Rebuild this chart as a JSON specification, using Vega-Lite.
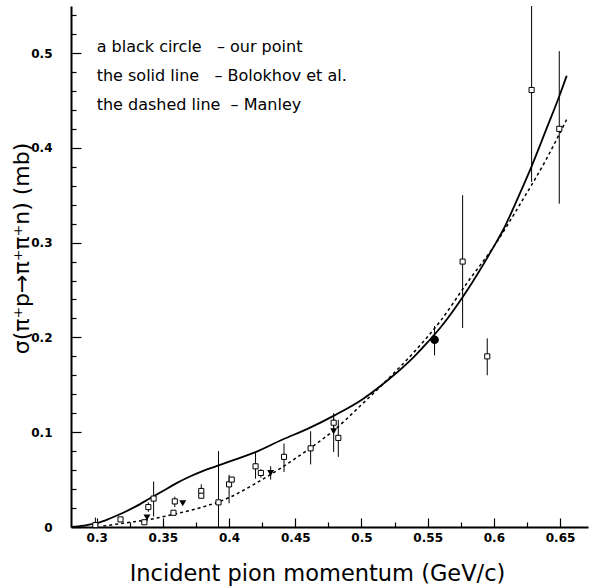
{
  "$schema": "https://vega.github.io/schema/vega-lite/v6.json",
  "width": 517,
  "height": 521,
  "autosize": {"type": "none"},
  "padding": {"left": 71, "top": 6, "right": 1, "bottom": 60},
  "background": "white",
  "config": {
    "view": {"stroke": null},
    "font": "DejaVu Sans",
    "axis": {
      "labelFont": "DejaVu Sans", "labelFontWeight": "bold", "labelFontSize": 12, "labelColor": "black",
      "tickColor": "black", "tickWidth": 1.2, "domainColor": "black", "domainWidth": 2, "grid": false,
      "labelOverlap": false, "labelFlush": false
    }
  },
  "resolve": {"axis": {"x": "independent", "y": "independent"}},
  "datasets": {
    "bolokhov": [
      {"p": 0.281, "sigma": 0.0}, {"p": 0.29, "sigma": 0.0015}, {"p": 0.30, "sigma": 0.004},
      {"p": 0.31, "sigma": 0.009}, {"p": 0.32, "sigma": 0.015}, {"p": 0.33, "sigma": 0.022},
      {"p": 0.34, "sigma": 0.030}, {"p": 0.35, "sigma": 0.038}, {"p": 0.36, "sigma": 0.046},
      {"p": 0.37, "sigma": 0.053}, {"p": 0.38, "sigma": 0.059}, {"p": 0.39, "sigma": 0.064},
      {"p": 0.40, "sigma": 0.069}, {"p": 0.42, "sigma": 0.079}, {"p": 0.44, "sigma": 0.092},
      {"p": 0.46, "sigma": 0.104}, {"p": 0.48, "sigma": 0.118}, {"p": 0.50, "sigma": 0.134},
      {"p": 0.52, "sigma": 0.155}, {"p": 0.54, "sigma": 0.180}, {"p": 0.55, "sigma": 0.195},
      {"p": 0.56, "sigma": 0.211}, {"p": 0.58, "sigma": 0.250}, {"p": 0.60, "sigma": 0.296},
      {"p": 0.6071, "sigma": 0.3136}, {"p": 0.62, "sigma": 0.353}, {"p": 0.6285, "sigma": 0.3805},
      {"p": 0.64, "sigma": 0.421}, {"p": 0.6494, "sigma": 0.4544}, {"p": 0.655, "sigma": 0.476}
    ],
    "manley": [
      {"p": 0.305, "sigma": 0.001}, {"p": 0.32, "sigma": 0.004}, {"p": 0.34, "sigma": 0.008},
      {"p": 0.36, "sigma": 0.014}, {"p": 0.38, "sigma": 0.021}, {"p": 0.40, "sigma": 0.031},
      {"p": 0.42, "sigma": 0.046}, {"p": 0.44, "sigma": 0.063}, {"p": 0.46, "sigma": 0.082},
      {"p": 0.48, "sigma": 0.103}, {"p": 0.50, "sigma": 0.129}, {"p": 0.52, "sigma": 0.156},
      {"p": 0.54, "sigma": 0.185}, {"p": 0.56, "sigma": 0.218}, {"p": 0.58, "sigma": 0.258},
      {"p": 0.60, "sigma": 0.296}, {"p": 0.62, "sigma": 0.341}, {"p": 0.64, "sigma": 0.389},
      {"p": 0.655, "sigma": 0.430}
    ],
    "points": [
      {"p": 0.299, "sigma": 0.002, "lo": 0.0, "hi": 0.010, "source": "square"},
      {"p": 0.318, "sigma": 0.008, "source": "square"},
      {"p": 0.336, "sigma": 0.005, "source": "square"},
      {"p": 0.339, "sigma": 0.021, "lo": 0.016, "hi": 0.026, "source": "square"},
      {"p": 0.343, "sigma": 0.030, "lo": 0.011, "hi": 0.048, "source": "square"},
      {"p": 0.358, "sigma": 0.015, "source": "square"},
      {"p": 0.359, "sigma": 0.027, "lo": 0.021, "hi": 0.032, "source": "square"},
      {"p": 0.379, "sigma": 0.038, "lo": 0.031, "hi": 0.045, "source": "square"},
      {"p": 0.379, "sigma": 0.033, "source": "square"},
      {"p": 0.392, "sigma": 0.026, "lo": 0.0, "hi": 0.080, "source": "square"},
      {"p": 0.400, "sigma": 0.045, "lo": 0.025, "hi": 0.055, "source": "square"},
      {"p": 0.402, "sigma": 0.050, "source": "square"},
      {"p": 0.420, "sigma": 0.064, "lo": 0.051, "hi": 0.078, "source": "square"},
      {"p": 0.424, "sigma": 0.057, "lo": 0.052, "hi": 0.061, "source": "square"},
      {"p": 0.4415, "sigma": 0.074, "lo": 0.058, "hi": 0.088, "source": "square"},
      {"p": 0.4616, "sigma": 0.083, "lo": 0.066, "hi": 0.101, "source": "square"},
      {"p": 0.479, "sigma": 0.110, "lo": 0.100, "hi": 0.120, "source": "square"},
      {"p": 0.4825, "sigma": 0.094, "lo": 0.074, "hi": 0.113, "source": "square"},
      {"p": 0.5764, "sigma": 0.28, "lo": 0.21, "hi": 0.35, "source": "square"},
      {"p": 0.595, "sigma": 0.18, "lo": 0.16, "hi": 0.199, "source": "square"},
      {"p": 0.6285, "sigma": 0.461, "lo": 0.364, "hi": 0.558, "source": "square"},
      {"p": 0.6494, "sigma": 0.42, "lo": 0.341, "hi": 0.502, "source": "square"},
      {"p": 0.338, "sigma": 0.010, "source": "triangle"},
      {"p": 0.365, "sigma": 0.025, "source": "triangle"},
      {"p": 0.4314, "sigma": 0.057, "lo": 0.050, "hi": 0.064, "source": "triangle"},
      {"p": 0.479, "sigma": 0.101, "lo": 0.079, "hi": 0.115, "source": "triangle"},
      {"p": 0.5552, "sigma": 0.1975, "lo": 0.181, "hi": 0.212, "source": "ours"}
    ],
    "notes": [
      {"p": 0.3, "sigma": 0.5063, "text": "a black circle\u00a0\u00a0\u00a0– our point"},
      {"p": 0.3, "sigma": 0.4757, "text": "the solid line\u00a0\u00a0\u00a0– Bolokhov et al."},
      {"p": 0.3, "sigma": 0.4451, "text": "the dashed line\u00a0\u00a0– Manley"}
    ]
  },
  "layer": [
    {
      "data": {"name": "bolokhov"},
      "mark": {"type": "line", "color": "black", "strokeWidth": 1.8, "interpolate": "monotone", "clip": true},
      "encoding": {
        "x": {
          "field": "p", "type": "quantitative",
          "scale": {"domain": [0.2806, 0.6711], "nice": false, "zero": false},
          "axis": {
            "orient": "bottom",
            "title": "Incident pion momentum  (GeV/c)",
            "values": [0.3, 0.35, 0.4, 0.45, 0.5, 0.55, 0.6, 0.65],
            "format": ".2~f",
            "tickSize": -9,
            "labelPadding": 14,
            "titleFont": "DejaVu Sans", "titleFontSize": 22.5, "titleFontWeight": "normal", "titleColor": "black",
            "titleX": 246, "titleY": 53, "titleBaseline": "alphabetic", "titleAlign": "center"
          }
        },
        "y": {
          "field": "sigma", "type": "quantitative",
          "scale": {"domain": [0, 0.5496], "nice": false, "zero": false},
          "axis": {
            "orient": "left",
            "title": "σ(π⁺p→π⁺π⁺n)  (mb)",
            "values": [0, 0.1, 0.2, 0.3, 0.4, 0.5],
            "format": ".1~f",
            "tickSize": -10,
            "labelPadding": 29,
            "titleFont": "DejaVu Sans", "titleFontSize": 22, "titleFontWeight": "normal", "titleColor": "black",
            "titleX": -43, "titleY": 242, "titleBaseline": "alphabetic", "titleAlign": "center", "titleAngle": -90
          }
        }
      }
    },
    {
      "data": {"name": "manley"},
      "mark": {"type": "line", "color": "black", "strokeWidth": 1.5, "strokeDash": [3, 3], "interpolate": "monotone", "clip": true},
      "encoding": {
        "x": {
          "field": "p", "type": "quantitative",
          "axis": {
            "orient": "bottom", "title": null, "labels": false, "domain": false,
            "values": [0.325, 0.375, 0.425, 0.475, 0.525, 0.575, 0.625],
            "tickSize": -5
          }
        },
        "y": {
          "field": "sigma", "type": "quantitative",
          "axis": {
            "orient": "left", "title": null, "labels": false, "domain": false,
            "values": [0.02, 0.04, 0.06, 0.08, 0.12, 0.14, 0.16, 0.18, 0.22, 0.24, 0.26, 0.28, 0.32, 0.34, 0.36, 0.38, 0.42, 0.44, 0.46, 0.48, 0.52, 0.54],
            "tickSize": -5
          }
        }
      }
    },
    {
      "data": {"name": "points"},
      "transform": [{"filter": "isValid(datum.lo)"}],
      "mark": {"type": "rule", "color": "black", "strokeWidth": 1, "clip": true},
      "encoding": {
        "x": {"field": "p", "type": "quantitative", "axis": null},
        "y": {"field": "lo", "type": "quantitative", "axis": null},
        "y2": {"field": "hi"}
      }
    },
    {
      "data": {"name": "points"},
      "transform": [{"filter": "datum.source == 'square'"}],
      "mark": {"type": "point", "shape": "square", "filled": true, "fill": "white", "stroke": "black", "strokeWidth": 1, "size": 26, "opacity": 1},
      "encoding": {
        "x": {"field": "p", "type": "quantitative", "axis": null},
        "y": {"field": "sigma", "type": "quantitative", "axis": null}
      }
    },
    {
      "data": {"name": "points"},
      "transform": [{"filter": "datum.source == 'triangle'"}],
      "mark": {"type": "point", "shape": "triangle-down", "filled": true, "color": "black", "size": 48, "opacity": 1},
      "encoding": {
        "x": {"field": "p", "type": "quantitative", "axis": null},
        "y": {"field": "sigma", "type": "quantitative", "axis": null}
      }
    },
    {
      "data": {"name": "points"},
      "transform": [{"filter": "datum.source == 'ours'"}],
      "mark": {"type": "circle", "color": "black", "size": 75, "opacity": 1},
      "encoding": {
        "x": {"field": "p", "type": "quantitative", "axis": null},
        "y": {"field": "sigma", "type": "quantitative", "axis": null}
      }
    },
    {
      "mark": {"type": "rule", "color": "black", "strokeWidth": 2},
      "encoding": {"y": {"datum": 0.5496, "axis": null}}
    },
    {
      "data": {"name": "notes"},
      "mark": {"type": "text", "align": "left", "baseline": "middle", "font": "DejaVu Sans", "fontSize": 16, "color": "black"},
      "encoding": {
        "x": {"field": "p", "type": "quantitative", "axis": null},
        "y": {"field": "sigma", "type": "quantitative", "axis": null},
        "text": {"field": "text"}
      }
    }
  ]
}
